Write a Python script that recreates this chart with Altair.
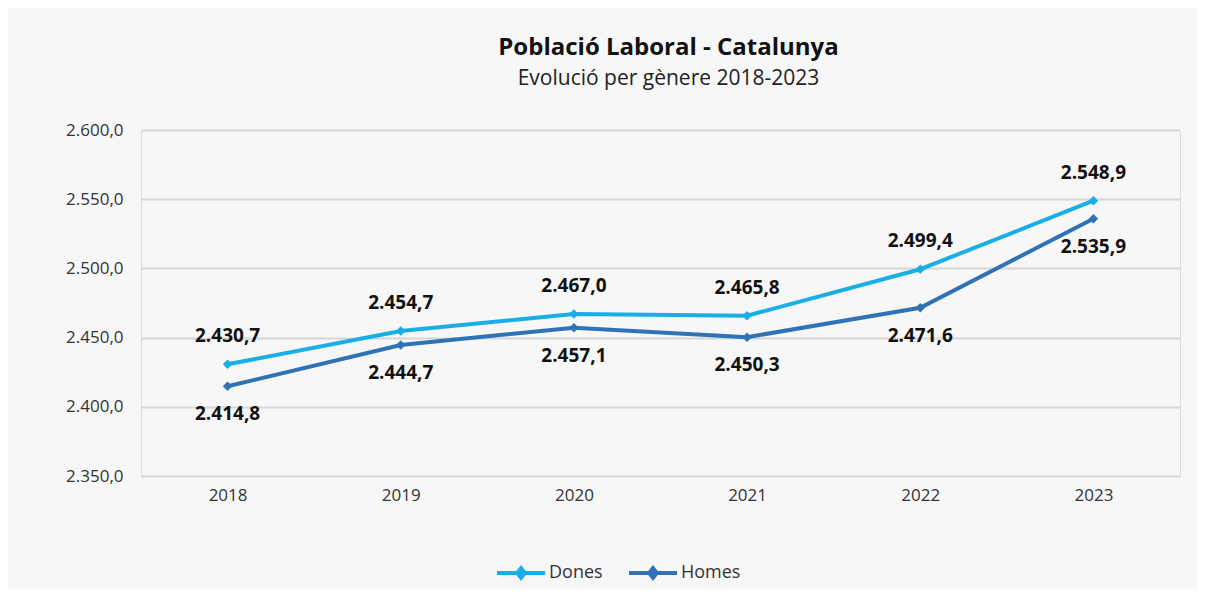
import altair as alt
import pandas as pd

years = ["2018", "2019", "2020", "2021", "2022", "2023"]
dones = [2430.7, 2454.7, 2467.0, 2465.8, 2499.4, 2548.9]
homes = [2414.8, 2444.7, 2457.1, 2450.3, 2471.6, 2535.9]
series = ["Dones", "Homes"]
colors = ["#1aaee6", "#2f72b5"]
y_ticks = [2350, 2400, 2450, 2500, 2550, 2600]

rows = []
for y, d, h in zip(years, dones, homes):
    rows.append({"Any": y, "Gènere": "Dones", "Valor": d})
    rows.append({"Any": y, "Gènere": "Homes", "Valor": h})
df = pd.DataFrame(rows)

FONT = "Open Sans"

x = alt.X("Any:O", scale=alt.Scale(type="point", padding=0.5),
          axis=alt.Axis(title=None, labelAngle=0, domain=False, ticks=False,
                        labelPadding=11, labelFontSize=17, labelColor="#333333",
                        labelFont=FONT, grid=False))
y = alt.Y("Valor:Q", scale=alt.Scale(domain=[2350, 2600], nice=False, zero=False),
          axis=alt.Axis(title=None, values=y_ticks, format=",.1f", domain=False, ticks=False,
                        labelPadding=18, labelFontSize=17, labelColor="#333333",
                        labelFont=FONT, gridColor="#d6d6d6", gridWidth=2))
color = alt.Color("Gènere:N", scale=alt.Scale(domain=series, range=colors),
                  legend=alt.Legend(title=None, orient="none", direction="horizontal",
                                    legendX=354, legendY=417,
                                    symbolType="M-1,0L1,0M-0.16,0L0,-0.2L0.16,0L0,0.2Z",
                                    symbolSize=2300, symbolStrokeWidth=4,
                                    labelFontSize=18, labelFont=FONT, labelColor="#333333",
                                    labelOffset=2, columnPadding=18))

base = alt.Chart(df)
lines = base.mark_line(strokeWidth=4).encode(x=x, y=y, color=color)
points = base.mark_point(shape="diamond", filled=True, size=90, opacity=1).encode(
    x=x, y=y, color=alt.Color("Gènere:N", scale=alt.Scale(domain=series, range=colors), legend=None))
labels_d = base.transform_filter(alt.datum["Gènere"] == "Dones").mark_text(
    dy=-28, fontSize=19, fontWeight="bold", font=FONT, color="#111111").encode(
    x=x, y=y, text=alt.Text("Valor:Q", format=",.1f"))
labels_h = base.transform_filter(alt.datum["Gènere"] == "Homes").mark_text(
    dy=28, fontSize=19, fontWeight="bold", font=FONT, color="#111111").encode(
    x=x, y=y, text=alt.Text("Valor:Q", format=",.1f"))

chart = alt.layer(lines, points, labels_d, labels_h).properties(
    width=1039, height=346,
    autosize=alt.AutoSizeParams(type="none"),
    padding={"left": 133, "top": 122, "right": 17, "bottom": 113},
    title=alt.TitleParams(text="Població Laboral - Catalunya",
                          subtitle="Evolució per gènere 2018-2023",
                          anchor="middle", dx=8, offset=32,
                          font=FONT, fontSize=24, fontWeight="bold", color="#111111",
                          subtitleFont=FONT, subtitleFontSize=21, subtitleColor="#222222",
                          subtitlePadding=8),
    background="#f7f7f7",
).configure_view(stroke=None, strokeWidth=0, strokeOpacity=0).configure(
    locale={"number": {"decimal": ",", "thousands": ".", "grouping": [3], "currency": ["", " €"]}}
)

chart.save("out.html", embed_options={"renderer": "svg", "actions": False})
